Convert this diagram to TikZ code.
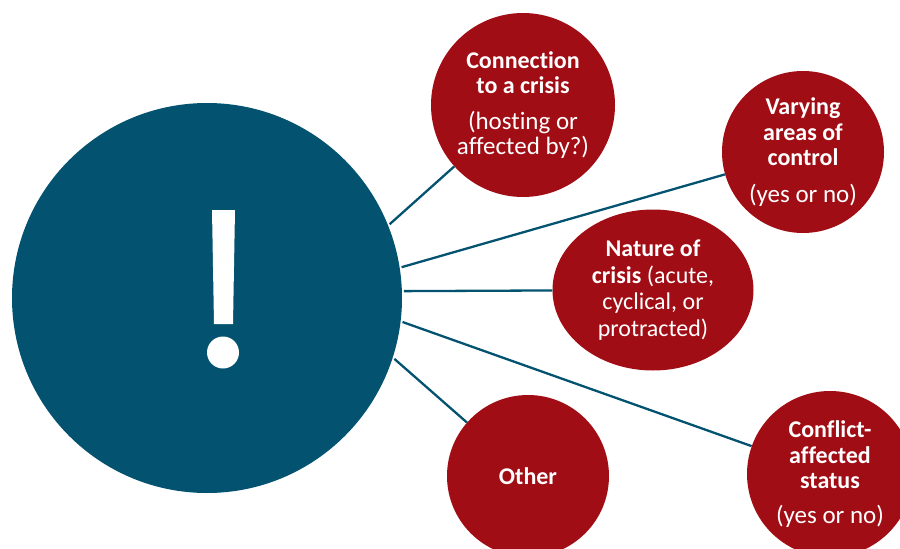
\documentclass[tikz,border=0pt]{standalone}
\usepackage{fontspec}
\setmainfont{Carlito}[Ligatures=CommonOff]
\usetikzlibrary{shapes.geometric}
\definecolor{hubblue}{RGB}{3,83,112}
\definecolor{factorred}{RGB}{161,13,20}
\newcommand{\notefont}{\fontsize{25}{26}\selectfont}
\begin{document}
\begin{tikzpicture}[x=1pt,y=-1pt,
  hub/.style={circle,fill=hubblue,minimum size=390pt,inner sep=0pt,outer sep=2pt},
  factor/.style={circle,fill=factorred,text=white,align=center,inner sep=0pt,
    font=\fontsize{24}{25.5}\selectfont},
  link/.style={draw=hubblue,line width=2.3pt}]
\useasboundingbox (0,0) rectangle (900,549);
\clip (0,0) rectangle (900,549);

% central circle with exclamation mark
\node[hub] (hub) at (207,298) {};
\fill[white] (212,210) -- (235,210) -- (233,324) -- (214,324) -- cycle;
\fill[white] (223,352.5) circle (16);

% surrounding factors
\node[factor,minimum size=184pt] (conn) at (523,105)
  {\textbf{Connection}\\\textbf{to a crisis}\\[10pt]{\notefont(hosting or}\\{\notefont affected by?)}};
\node[factor,minimum size=162pt] (vary) at (803,152)
  {\textbf{Varying}\\\textbf{areas of}\\\textbf{control}\\[11pt]{\notefont(yes or no)}};
\node[factor,ellipse,minimum width=201pt,minimum height=161pt] (nature) at (653,290)
  {\textbf{Nature of}\\[1pt]\textbf{crisis} (acute,\\[1pt]cyclical, or\\[1pt]protracted)};
\node[factor,minimum size=162pt] (other) at (528,476) {\textbf{Other}};
\node[factor,minimum size=166pt] (conflict) at (830,474)
  {\textbf{Conflict-}\\\textbf{affected}\\\textbf{status}\\[9pt]{\notefont(yes or no)}};

% connectors
\draw[link] (hub.22.7) -- (conn);
\draw[link] (hub.9.6) -- (vary);
\draw[link] (hub.2) -- (nature);
\draw[link] (hub.-7.3) -- (conflict);
\draw[link] (hub.-18.9) -- (other);
\end{tikzpicture}
\end{document}
